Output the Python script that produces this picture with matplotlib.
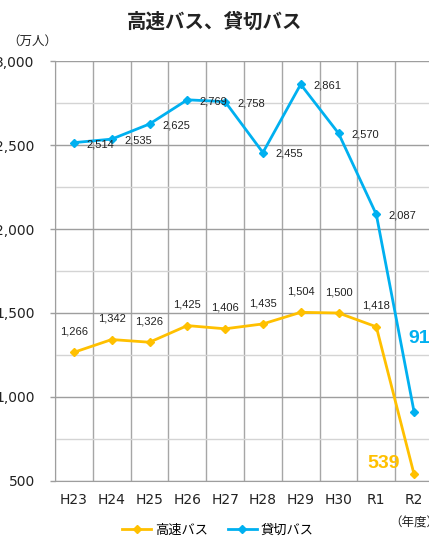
import numpy as np
import matplotlib.pyplot as plt
from matplotlib.ticker import MultipleLocator, FuncFormatter

# --- Data (万人) ---
years = ["H23", "H24", "H25", "H26", "H27", "H28", "H29", "H30", "R1", "R2"]
highway_bus = [1266, 1342, 1326, 1425, 1406, 1435, 1504, 1500, 1418, 539]
charter_bus = [2514, 2535, 2625, 2769, 2758, 2455, 2861, 2570, 2087, 911]

ORANGE = "#FFC000"
BLUE = "#00B0F0"
JP = ["Noto Sans CJK JP", "DejaVu Sans"]

plt.rcParams["font.family"] = ["DejaVu Sans", "Noto Sans CJK JP"]

W, H = 429, 538
fig = plt.figure(figsize=(W / 100, H / 100), dpi=100)
ax = fig.add_axes([55 / W, (H - 481) / H, 378 / W, 420 / H])

x = np.arange(len(years))
ax.plot(x, highway_bus, color=ORANGE, lw=2, marker="D", ms=4.5, label="高速バス", zorder=3)
ax.plot(x, charter_bus, color=BLUE, lw=2, marker="D", ms=4.5, label="貸切バス", zorder=3)

ax.set_xlim(-0.5, len(years) - 0.5)
ax.set_ylim(500, 3000)

# --- Grid ---
ax.yaxis.set_major_locator(MultipleLocator(500))
ax.yaxis.set_minor_locator(MultipleLocator(250))
ax.yaxis.set_major_formatter(FuncFormatter(lambda v, p: f"{int(v):,}"))
ax.grid(axis="y", which="major", color="#9E9E9E", lw=1)
ax.grid(axis="y", which="minor", color="#D4D4D4", lw=1)
for b in np.arange(-0.5, len(years), 1.0):
    ax.axvline(b, color="#A6A6A6", lw=1, zorder=0)
ax.set_axisbelow(True)

ax.set_xticks(x)
ax.set_xticklabels(years)
ax.tick_params(axis="x", length=0, pad=9, labelsize=10, colors="#222222")
ax.tick_params(axis="y", which="major", length=3.6, width=1, color="#9E9E9E", pad=11,
               labelsize=10, colors="#222222")
ax.tick_params(axis="y", which="minor", length=0)
for s in ["top", "right"]:
    ax.spines[s].set_visible(False)
for s in ["left", "bottom"]:
    ax.spines[s].set_color("#9E9E9E")

# --- Data labels ---
for i in range(len(years) - 1):
    ax.annotate(f"{highway_bus[i]:,}", (x[i], highway_bus[i]), xytext=(0, 15),
                textcoords="offset points", ha="center", va="center",
                fontsize=8, family="Liberation Sans", color="#222222")
    ax.annotate(f"{charter_bus[i]:,}", (x[i], charter_bus[i]), xytext=(9, -1),
                textcoords="offset points", ha="left", va="center",
                fontsize=8, family="Liberation Sans", color="#222222")

ax.annotate(f"{highway_bus[-1]:,}", (x[-1], highway_bus[-1]), xytext=(-34, 8),
            textcoords="offset points", ha="left", va="center",
            fontsize=14, fontweight="bold", family="Liberation Sans", color=ORANGE)
ax.annotate(f"{charter_bus[-1]:,}", (x[-1], charter_bus[-1]), xytext=(-4, 53),
            textcoords="offset points", ha="left", va="center",
            fontsize=14, fontweight="bold", family="Liberation Sans", color=BLUE,
            annotation_clip=False)

# --- Titles and units ---
fig.text(215 / W, 1 - 22 / H, "高速バス、貸切バス", ha="center", va="center",
         fontsize=14, fontweight="bold", family=JP, color="#222222")
fig.text(32 / W, 1 - 41 / H, "（万人）", ha="center", va="center",
         fontsize=9, family=JP, color="#222222")
fig.text(389 / W, 1 - 523 / H, "（年度）", ha="left", va="center",
         fontsize=9, family=JP, color="#222222")

fig.legend(loc="center", bbox_to_anchor=(218 / W, 1 - 530 / H), ncol=2, frameon=False,
           prop={"family": JP, "size": 9.5}, handlelength=2.2, handletextpad=0.3,
           columnspacing=1.5, borderpad=0)

fig.savefig("out.png", dpi=100)
